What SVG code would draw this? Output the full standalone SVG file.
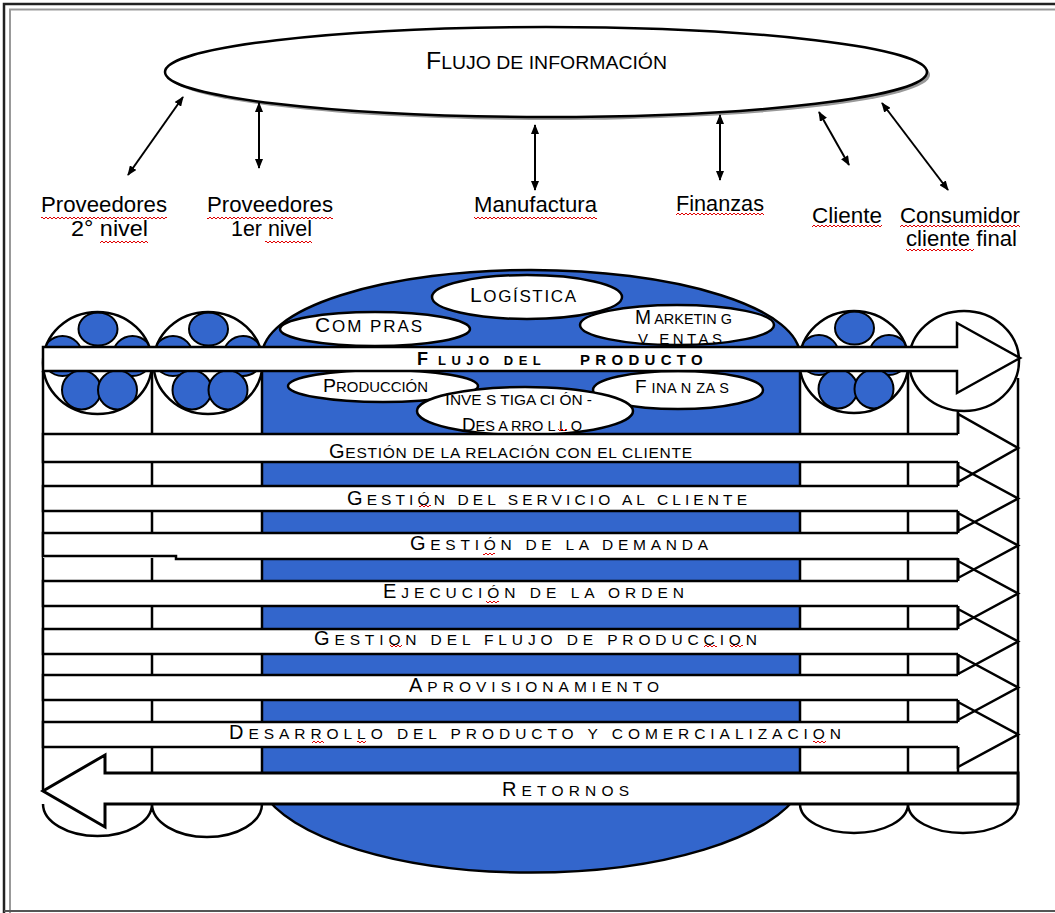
<svg xmlns="http://www.w3.org/2000/svg" width="1055" height="913" viewBox="0 0 1055 913">
<style>
text{font-family:"Liberation Sans",Arial,sans-serif;fill:#000}
.lbl{font-size:21.5px}
.ln{stroke:#000;stroke-width:2.5;fill:none}
.bl{fill:#3366cc}
.wo{fill:#fff;stroke:#000;stroke-width:2.5}
.sq{fill:url(#sq)}
.arr{stroke:#000;stroke-width:2;fill:none;marker-start:url(#ah);marker-end:url(#ah)}
</style>
<defs>
<marker id="ah" viewBox="0 0 10 8" refX="9" refY="4" markerWidth="10" markerHeight="8" markerUnits="userSpaceOnUse" orient="auto-start-reverse"><path d="M0,0 L10,4 L0,8 z" fill="#000"/></marker>
<pattern id="sq" width="4" height="4" patternUnits="userSpaceOnUse"><path d="M0,3 L2,1 L4,3" fill="none" stroke="#e00000" stroke-width="1"/></pattern>
<clipPath id="tc"><ellipse rx="54.5" ry="51"/></clipPath>
<g id="tier">
<ellipse rx="54.5" ry="51" fill="#fff"/>
<g clip-path="url(#tc)" fill="#3366cc" stroke="#000" stroke-width="2">
<circle cx="-35" cy="-7" r="20"/>
<circle cx="35" cy="-7" r="20"/>
<ellipse cx="0.5" cy="-34" rx="19.5" ry="16.5"/>
<circle cx="-16" cy="27" r="19.5"/>
<circle cx="20" cy="27" r="19.5"/>
</g>
<ellipse rx="54.5" ry="51" fill="none" stroke="#000" stroke-width="2.5"/>
</g>
</defs>
<rect width="1055" height="913" fill="#fff"/>
<g id="frame" fill="none">
<path d="M4,913 V4 H1055" stroke="#222" stroke-width="2.5"/>
<path d="M10,913 V9.5 H1055" stroke="#999" stroke-width="2"/>
<path d="M4,911 H1055" stroke="#555" stroke-width="2"/>
</g>
<g id="info">
<ellipse cx="549" cy="75" rx="381" ry="45" fill="#999"/>
<ellipse cx="546" cy="72" rx="381" ry="45" fill="#fff" stroke="#000" stroke-width="2.5"/>
<text x="426" y="69" textLength="241" lengthAdjust="spacingAndGlyphs"><tspan font-size="23">F</tspan><tspan font-size="18">LUJO DE INFORMACIÓN</tspan></text>
</g>
<g id="connectors">
<line class="arr" x1="183" y1="97" x2="128" y2="175"/>
<line class="arr" x1="259" y1="103" x2="259" y2="168"/>
<line class="arr" x1="535" y1="125" x2="535" y2="190"/>
<line class="arr" x1="720" y1="115" x2="720" y2="180"/>
<line class="arr" x1="819" y1="112" x2="849" y2="165"/>
<line class="arr" x1="882" y1="103" x2="948" y2="190"/>
</g>
<g id="lbl-prov2">
<text class="lbl" x="41" y="212" textLength="126" lengthAdjust="spacingAndGlyphs">Proveedores</text>
<text class="lbl" x="71" y="236" textLength="77" lengthAdjust="spacingAndGlyphs">2° nivel</text>
<rect class="sq" x="41" y="216" width="126" height="4"/><rect class="sq" x="100" y="240" width="48" height="4"/>
</g>
<g id="lbl-prov1">
<text class="lbl" x="207" y="212" textLength="126" lengthAdjust="spacingAndGlyphs">Proveedores</text>
<text class="lbl" x="231" y="236" textLength="81" lengthAdjust="spacingAndGlyphs">1er nivel</text>
<rect class="sq" x="207" y="216" width="126" height="4"/><rect class="sq" x="265" y="240" width="47" height="4"/>
</g>
<g id="lbl-manuf">
<text class="lbl" x="474" y="212" textLength="123" lengthAdjust="spacingAndGlyphs">Manufactura</text>
<rect class="sq" x="474" y="216" width="123" height="4"/>
</g>
<g id="lbl-fin">
<text class="lbl" x="676" y="211" textLength="88" lengthAdjust="spacingAndGlyphs">Finanzas</text>
<rect class="sq" x="676" y="212" width="88" height="4"/>
</g>
<g id="lbl-cliente">
<text class="lbl" x="812" y="223" textLength="70" lengthAdjust="spacingAndGlyphs">Cliente</text>
<rect class="sq" x="812" y="224" width="70" height="4"/>
</g>
<g id="lbl-consumidor">
<text class="lbl" x="900" y="223" textLength="120" lengthAdjust="spacingAndGlyphs">Consumidor</text>
<text class="lbl" x="906" y="246" textLength="111" lengthAdjust="spacingAndGlyphs">cliente final</text>
<rect class="sq" x="900" y="224" width="120" height="4"/><rect class="sq" x="906" y="248" width="68" height="4"/>
</g>
<g id="manufacturer">
<path d="M262,356 A269,86 0 0 1 800,356 L800,791 A275,103 0 0 1 262,791 Z" class="bl" stroke="#000" stroke-width="2.5"/>
</g>
<g id="columns" class="ln">
<path d="M43,371 V791 M152,371 V804 M908,371 V804 M958,371 V773 M1018,378 V804"/>
<path d="M43,804 A54.5,32 0 0 0 152,804 M152,804 A55,33 0 0 0 262,804 M800,804 A54,29 0 0 0 908,804 M908,804 A55,29 0 0 0 1018,804"/>
</g>
<g id="tier-prov2"><use href="#tier" transform="translate(97.5,363)"/></g>
<g id="tier-prov1"><use href="#tier" transform="translate(208,363)"/></g>
<g id="tier-cliente"><use href="#tier" transform="translate(854,362)"/></g>
<g id="tier-consumidor"><ellipse cx="964" cy="361" rx="55" ry="50" class="wo"/></g>
<g id="ovals">
<g id="logistica"><ellipse cx="527" cy="297" rx="95" ry="22" class="wo"/>
<text x="470" y="302" textLength="106"><tspan font-size="21">L</tspan><tspan font-size="17">OGÍSTICA</tspan></text></g>
<g id="compras"><ellipse cx="375" cy="329" rx="95" ry="17" class="wo"/>
<text x="315" y="332" textLength="107"><tspan font-size="21">C</tspan><tspan font-size="17">OM PRAS</tspan></text></g>
<g id="marketing"><ellipse cx="677" cy="325" rx="97" ry="20" class="wo"/>
<text x="635" y="324" textLength="97" lengthAdjust="spacingAndGlyphs"><tspan font-size="20">M</tspan><tspan font-size="15"> ARKETIN G</tspan></text>
<text x="638" y="344" textLength="84" font-size="15">V ENTAS</text></g>
<g id="produccion"><ellipse cx="383" cy="386" rx="95" ry="16" class="wo"/>
<text x="323" y="392" textLength="105" lengthAdjust="spacingAndGlyphs"><tspan font-size="19">P</tspan><tspan font-size="14.5">RODUCCIÓN</tspan></text></g>
<g id="finanzas"><ellipse cx="678" cy="390" rx="85" ry="19" class="wo"/>
<text x="635" y="393" textLength="94"><tspan font-size="19">F</tspan><tspan font-size="14.5"> INA N ZA S</tspan></text></g>
<g id="investigacion"><ellipse cx="525" cy="411" rx="108" ry="24" class="wo"/>
<text x="445" y="405" textLength="147" lengthAdjust="spacingAndGlyphs"><tspan font-size="16">I</tspan><tspan font-size="14">NVE S TIGA CI ÓN -</tspan></text>
<text x="462" y="431" textLength="120" lengthAdjust="spacingAndGlyphs"><tspan font-size="18">D</tspan><tspan font-size="14">ES A RRO L L O</tspan></text>
<rect class="sq" x="558" y="428" width="9" height="4"/></g>
</g>
<g id="flujo-producto">
<path d="M43,347 H957 V323 L1020,358 L957,393 V371 H43 Z" class="wo"/>
<text y="365" font-weight="bold"><tspan x="417" font-size="18">F</tspan><tspan x="438" font-size="13" letter-spacing="5.5">LUJO DEL</tspan><tspan x="580" font-size="15" letter-spacing="5.3">PRODUCTO</tspan></text>
</g>
<g id="processes">
<g id="p1"><rect x="43" y="434" width="917" height="28" fill="#fff"/><path class="ln" stroke-width="3" d="M958,434 H43 V462 H958 M958,434 V414 L1018,448 L958,482 V462"/>
<text x="329" y="458" textLength="363"><tspan font-size="20">G</tspan><tspan font-size="15.5">ESTIÓN DE LA RELACIÓN CON EL CLIENTE</tspan></text></g>
<g id="p2"><rect x="43" y="486" width="917" height="25" fill="#fff"/><path class="ln" stroke-width="3" d="M958,486 H43 V511 H958 M958,486 V466 L1018,498.5 L958,531 V511"/>
<text x="347" y="505" textLength="400"><tspan font-size="20">G</tspan><tspan font-size="15.5">ESTIÓN DEL SERVICIO AL CLIENTE</tspan></text>
<rect class="sq" x="419" y="504" width="12" height="4"/></g>
<g id="p3"><rect x="43" y="533" width="917" height="25" fill="#fff"/><path class="ln" stroke-width="3" d="M958,533 H43 V556 H176 V559 H958 M958,533 V513 L1018,545.5 L958,578 V559"/>
<text x="410" y="550" textLength="298"><tspan font-size="20">G</tspan><tspan font-size="15.5">ESTIÓN DE LA DEMANDA</tspan></text>
<rect class="sq" x="483" y="552" width="12" height="4"/></g>
<g id="p4"><rect x="43" y="581" width="917" height="25" fill="#fff"/><path class="ln" stroke-width="3" d="M958,581 H43 V606 H958 M958,581 V561 L1018,593.5 L958,626 V606"/>
<text x="383" y="598" textLength="301"><tspan font-size="20">E</tspan><tspan font-size="15.5">JECUCIÓN DE LA ORDEN</tspan></text>
<rect class="sq" x="486" y="600" width="13" height="4"/></g>
<g id="p5"><rect x="43" y="629" width="917" height="25" fill="#fff"/><path class="ln" stroke-width="3" d="M958,629 H43 V654 H958 M958,629 V609 L1018,641.5 L958,674 V654"/>
<text x="314" y="645" textLength="443"><tspan font-size="20">G</tspan><tspan font-size="15.5">ESTION DEL FLUJO DE PRODUCCION</tspan></text>
<rect class="sq" x="390" y="644" width="12" height="4"/><rect class="sq" x="704" y="644" width="13" height="4"/><rect class="sq" x="730" y="644" width="13" height="4"/></g>
<g id="p6"><rect x="43" y="675" width="917" height="25" fill="#fff"/><path class="ln" stroke-width="3" d="M958,675 H43 V700 H958 M958,675 V655 L1018,687.5 L958,720 V700"/>
<text x="409" y="692" textLength="250"><tspan font-size="20">A</tspan><tspan font-size="15.5">PROVISIONAMIENTO</tspan></text></g>
<g id="p7"><rect x="43" y="722" width="917" height="25" fill="#fff"/><path class="ln" stroke-width="3" d="M958,722 H43 V747 H958 M958,722 V702 L1018,734.5 L958,767 V747"/>
<text x="229" y="739" textLength="612"><tspan font-size="20">D</tspan><tspan font-size="15.5">ESARROLLO DEL PRODUCTO Y COMERCIALIZACION</tspan></text>
<rect class="sq" x="312" y="740" width="12" height="4"/><rect class="sq" x="357" y="740" width="9" height="4"/><rect class="sq" x="813" y="740" width="13" height="4"/></g>
<g id="retornos"><path d="M105,773 V755 L43,791 L105,827 V804 H1018 V773 Z" fill="#fff" stroke="#000" stroke-width="3"/>
<text x="502" y="796" textLength="127"><tspan font-size="20">R</tspan><tspan font-size="15.5">ETORNOS</tspan></text></g>
</g>
</svg>
